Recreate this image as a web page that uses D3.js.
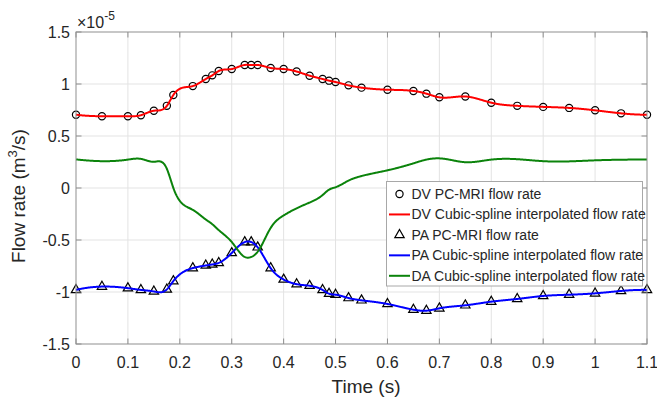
<!DOCTYPE html>
<html>
<head>
<meta charset="utf-8">
<script src="https://cdn.jsdelivr.net/npm/d3@7"></script>
<style>
  html, body { margin: 0; padding: 0; background: #fff; }
  svg { display: block; }
  text { font-family: "Liberation Sans", Arial, Helvetica, sans-serif; fill: #262626; }
</style>
</head>
<body>
<svg id="chart" width="657" height="397"></svg>
<script>
// ---- Data (flow rate in units of 1e-5 m^3/s) ----
const times = [0, 0.05, 0.1, 0.125, 0.15, 0.175, 0.1875, 0.225, 0.25, 0.2625, 0.275, 0.3,
  0.325, 0.3375, 0.35, 0.375, 0.4, 0.425, 0.45, 0.475, 0.4875, 0.5, 0.525, 0.55,
  0.6, 0.65, 0.675, 0.7, 0.75, 0.8, 0.85, 0.9, 0.95, 1.0, 1.05, 1.1];
const dvFlow = [0.705, 0.69, 0.69, 0.70, 0.743, 0.79, 0.894, 0.98, 1.048, 1.083, 1.125, 1.144,
  1.183, 1.183, 1.183, 1.154, 1.144, 1.12, 1.08, 1.048, 1.032, 1.019, 0.987, 0.965,
  0.945, 0.933, 0.907, 0.872, 0.88, 0.82, 0.79, 0.78, 0.77, 0.747, 0.718, 0.705];
const paFlow = [-0.98, -0.948, -0.963, -0.98, -0.995, -0.975, -0.895, -0.77, -0.745, -0.735, -0.72, -0.625,
  -0.52, -0.52, -0.57, -0.77, -0.88, -0.925, -0.94, -0.98, -1.016, -1.026, -1.058, -1.08,
  -1.115, -1.17, -1.18, -1.157, -1.128, -1.093, -1.067, -1.038, -1.026, -1.013, -0.99, -0.98];
const daFlow = [0.275, 0.258, 0.273, 0.28, 0.252, 0.185, 0.001, -0.21, -0.303, -0.348, -0.405, -0.519,
  -0.663, -0.663, -0.613, -0.384, -0.264, -0.195, -0.14, -0.068, -0.016, 0.007, 0.071, 0.115,
  0.17, 0.237, 0.273, 0.285, 0.248, 0.273, 0.277, 0.258, 0.256, 0.266, 0.272, 0.275];
const xTicks = [0, 0.1, 0.2, 0.3, 0.4, 0.5, 0.6, 0.7, 0.8, 0.9, 1.0, 1.1];
const xTickLabels = ["0", "0.1", "0.2", "0.3", "0.4", "0.5", "0.6", "0.7", "0.8", "0.9", "1", "1.1"];
const yTicks = [-1.5, -1, -0.5, 0, 0.5, 1, 1.5];
const yTickLabels = ["-1.5", "-1", "-0.5", "0", "0.5", "1", "1.5"];
const legendLabels = ["DV PC-MRI flow rate", "DV Cubic-spline interpolated flow rate",
  "PA PC-MRI flow rate", "PA Cubic-spline interpolated flow rate", "DA Cubic-spline interpolated flow rate"];

// ---- Not-a-knot cubic spline (as MATLAB spline) ----
function notAKnotSpline(xs, ys) {
  const n = xs.length;
  const h = [];
  for (let i = 0; i < n - 1; i++) h.push(xs[i + 1] - xs[i]);
  const A = Array.from({length: n}, () => new Array(n).fill(0));
  const b = new Array(n).fill(0);
  A[0][0] = h[1]; A[0][1] = -(h[0] + h[1]); A[0][2] = h[0];
  for (let i = 1; i < n - 1; i++) {
    A[i][i - 1] = h[i - 1];
    A[i][i] = 2 * (h[i - 1] + h[i]);
    A[i][i + 1] = h[i];
    b[i] = 6 * ((ys[i + 1] - ys[i]) / h[i] - (ys[i] - ys[i - 1]) / h[i - 1]);
  }
  A[n - 1][n - 3] = h[n - 2]; A[n - 1][n - 2] = -(h[n - 3] + h[n - 2]); A[n - 1][n - 1] = h[n - 3];
  // Gaussian elimination with partial pivoting
  for (let c = 0; c < n; c++) {
    let p = c;
    for (let r = c + 1; r < n; r++) if (Math.abs(A[r][c]) > Math.abs(A[p][c])) p = r;
    [A[c], A[p]] = [A[p], A[c]]; [b[c], b[p]] = [b[p], b[c]];
    for (let r = c + 1; r < n; r++) {
      const f = A[r][c] / A[c][c];
      if (f === 0) continue;
      for (let k = c; k < n; k++) A[r][k] -= f * A[c][k];
      b[r] -= f * b[c];
    }
  }
  const M = new Array(n).fill(0);
  for (let r = n - 1; r >= 0; r--) {
    let s = b[r];
    for (let k = r + 1; k < n; k++) s -= A[r][k] * M[k];
    M[r] = s / A[r][r];
  }
  return function(t) {
    let i = 0;
    while (i < n - 2 && t > xs[i + 1]) i++;
    const hi = h[i], a = xs[i + 1] - t, d = t - xs[i];
    return M[i] * a * a * a / (6 * hi) + M[i + 1] * d * d * d / (6 * hi)
      + (ys[i] / hi - M[i] * hi / 6) * a + (ys[i + 1] / hi - M[i + 1] * hi / 6) * d;
  };
}
function sampleSpline(xs, ys) {
  const f = notAKnotSpline(xs, ys);
  const t0 = xs[0], t1 = xs[xs.length - 1], N = 1100;
  return d3.range(N + 1).map(k => { const t = t0 + (t1 - t0) * k / N; return [t, f(t)]; });
}

// ---- Layout ----
const svg = d3.select("#chart");
const L = 76, R = 647, T = 32, B = 344;
const x = d3.scaleLinear().domain([0, 1.1]).range([L, R]);
const y = d3.scaleLinear().domain([-1.5, 1.5]).range([B, T]);
const axisColor = "#8f8f8f";
const gridColor = "#e3e3e3";
const tickLen = 5.5;

// grid
const grid = svg.append("g");
grid.selectAll(".gx").data(xTicks.slice(1, -1)).enter().append("line")
  .attr("x1", d => x(d)).attr("x2", d => x(d)).attr("y1", T).attr("y2", B)
  .attr("stroke", gridColor).attr("stroke-width", 1);
grid.selectAll(".gy").data(yTicks.slice(1, -1)).enter().append("line")
  .attr("x1", L).attr("x2", R).attr("y1", d => y(d)).attr("y2", d => y(d))
  .attr("stroke", gridColor).attr("stroke-width", 1);

// data marks
const line = d3.line().x(d => x(d[0])).y(d => y(d[1]));
const plot = svg.append("g");
const dvPts = times.map((t, i) => [t, dvFlow[i]]);
const paPts = times.map((t, i) => [t, paFlow[i]]);

plot.selectAll(".dv").data(dvPts).enter().append("circle")
  .attr("cx", d => x(d[0])).attr("cy", d => y(d[1])).attr("r", 3.6)
  .attr("fill", "none").attr("stroke", "#000").attr("stroke-width", 1.2);
plot.append("path").datum(sampleSpline(times, dvFlow)).attr("d", line)
  .attr("fill", "none").attr("stroke", "#ff0000").attr("stroke-width", 2);

const tri = d3.symbol().type(d3.symbolTriangle).size(38);
plot.selectAll(".pa").data(paPts).enter().append("path")
  .attr("d", tri).attr("transform", d => `translate(${x(d[0])},${y(d[1])})`)
  .attr("fill", "none").attr("stroke", "#000").attr("stroke-width", 1.2);
plot.append("path").datum(sampleSpline(times, paFlow)).attr("d", line)
  .attr("fill", "none").attr("stroke", "#0000ff").attr("stroke-width", 2);

plot.append("path").datum(sampleSpline(times, daFlow)).attr("d", line)
  .attr("fill", "none").attr("stroke", "#0b830b").attr("stroke-width", 2);

// box & ticks
const ax = svg.append("g").attr("stroke", axisColor).attr("stroke-width", 1).attr("fill", "none");
ax.append("rect").attr("x", L).attr("y", T).attr("width", R - L).attr("height", B - T);
xTicks.forEach(t => {
  ax.append("line").attr("x1", x(t)).attr("x2", x(t)).attr("y1", B).attr("y2", B - tickLen);
  ax.append("line").attr("x1", x(t)).attr("x2", x(t)).attr("y1", T).attr("y2", T + tickLen);
});
yTicks.forEach(t => {
  ax.append("line").attr("x1", L).attr("x2", L + tickLen).attr("y1", y(t)).attr("y2", y(t));
  ax.append("line").attr("x1", R).attr("x2", R - tickLen).attr("y1", y(t)).attr("y2", y(t));
});

// tick labels
svg.append("g").selectAll("text").data(xTicks).enter().append("text")
  .attr("x", d => x(d)).attr("y", 367.5).attr("text-anchor", "middle")
  .attr("font-size", 16).text((d, i) => xTickLabels[i]);
svg.append("g").selectAll("text").data(yTicks).enter().append("text")
  .attr("x", L - 6).attr("y", d => y(d)).attr("dy", "0.36em").attr("text-anchor", "end")
  .attr("font-size", 16).text((d, i) => yTickLabels[i]);

// exponent
const ex = svg.append("text").attr("x", 77).attr("y", 28).attr("font-size", 16);
ex.append("tspan").text("\u00d710");
ex.append("tspan").attr("font-size", 12).attr("dy", -8).text("-5");

// axis labels
svg.append("text").attr("x", 366).attr("y", 392.5).attr("text-anchor", "middle")
  .attr("font-size", 19).text("Time (s)");
const yl = svg.append("text").attr("transform", "translate(25,196) rotate(-90)")
  .attr("text-anchor", "middle").attr("font-size", 19);
yl.append("tspan").text("Flow rate (m");
yl.append("tspan").attr("font-size", 13).attr("dy", -8).text("3");
yl.append("tspan").attr("dy", 8).text("/s)");

// legend
const lg = svg.append("g");
lg.append("rect").attr("x", 386.5).attr("y", 181.5).attr("width", 256).attr("height", 104.5)
  .attr("fill", "#fff").attr("stroke", "#a8a8a8").attr("stroke-width", 1);
const rowY = i => 194 + i * 20.45;
const legendKinds = ["circle", "red", "triangle", "blue", "green"];
const legendColors = {red: "#ff0000", blue: "#0000ff", green: "#0b830b"};
legendKinds.forEach((k, i) => {
  const cy = rowY(i);
  if (k === "circle") {
    lg.append("circle").attr("cx", 399.5).attr("cy", cy).attr("r", 3.6)
      .attr("fill", "none").attr("stroke", "#000").attr("stroke-width", 1.2);
  } else if (k === "triangle") {
    lg.append("path").attr("d", tri).attr("transform", `translate(399.5,${cy})`)
      .attr("fill", "none").attr("stroke", "#000").attr("stroke-width", 1.2);
  } else {
    lg.append("line").attr("x1", 389).attr("x2", 410).attr("y1", cy).attr("y2", cy)
      .attr("stroke", legendColors[k]).attr("stroke-width", 2);
  }
  lg.append("text").attr("x", 411.5).attr("y", cy).attr("dy", "0.36em")
    .attr("font-size", 14).text(legendLabels[i]);
});
</script>
</body>
</html>
